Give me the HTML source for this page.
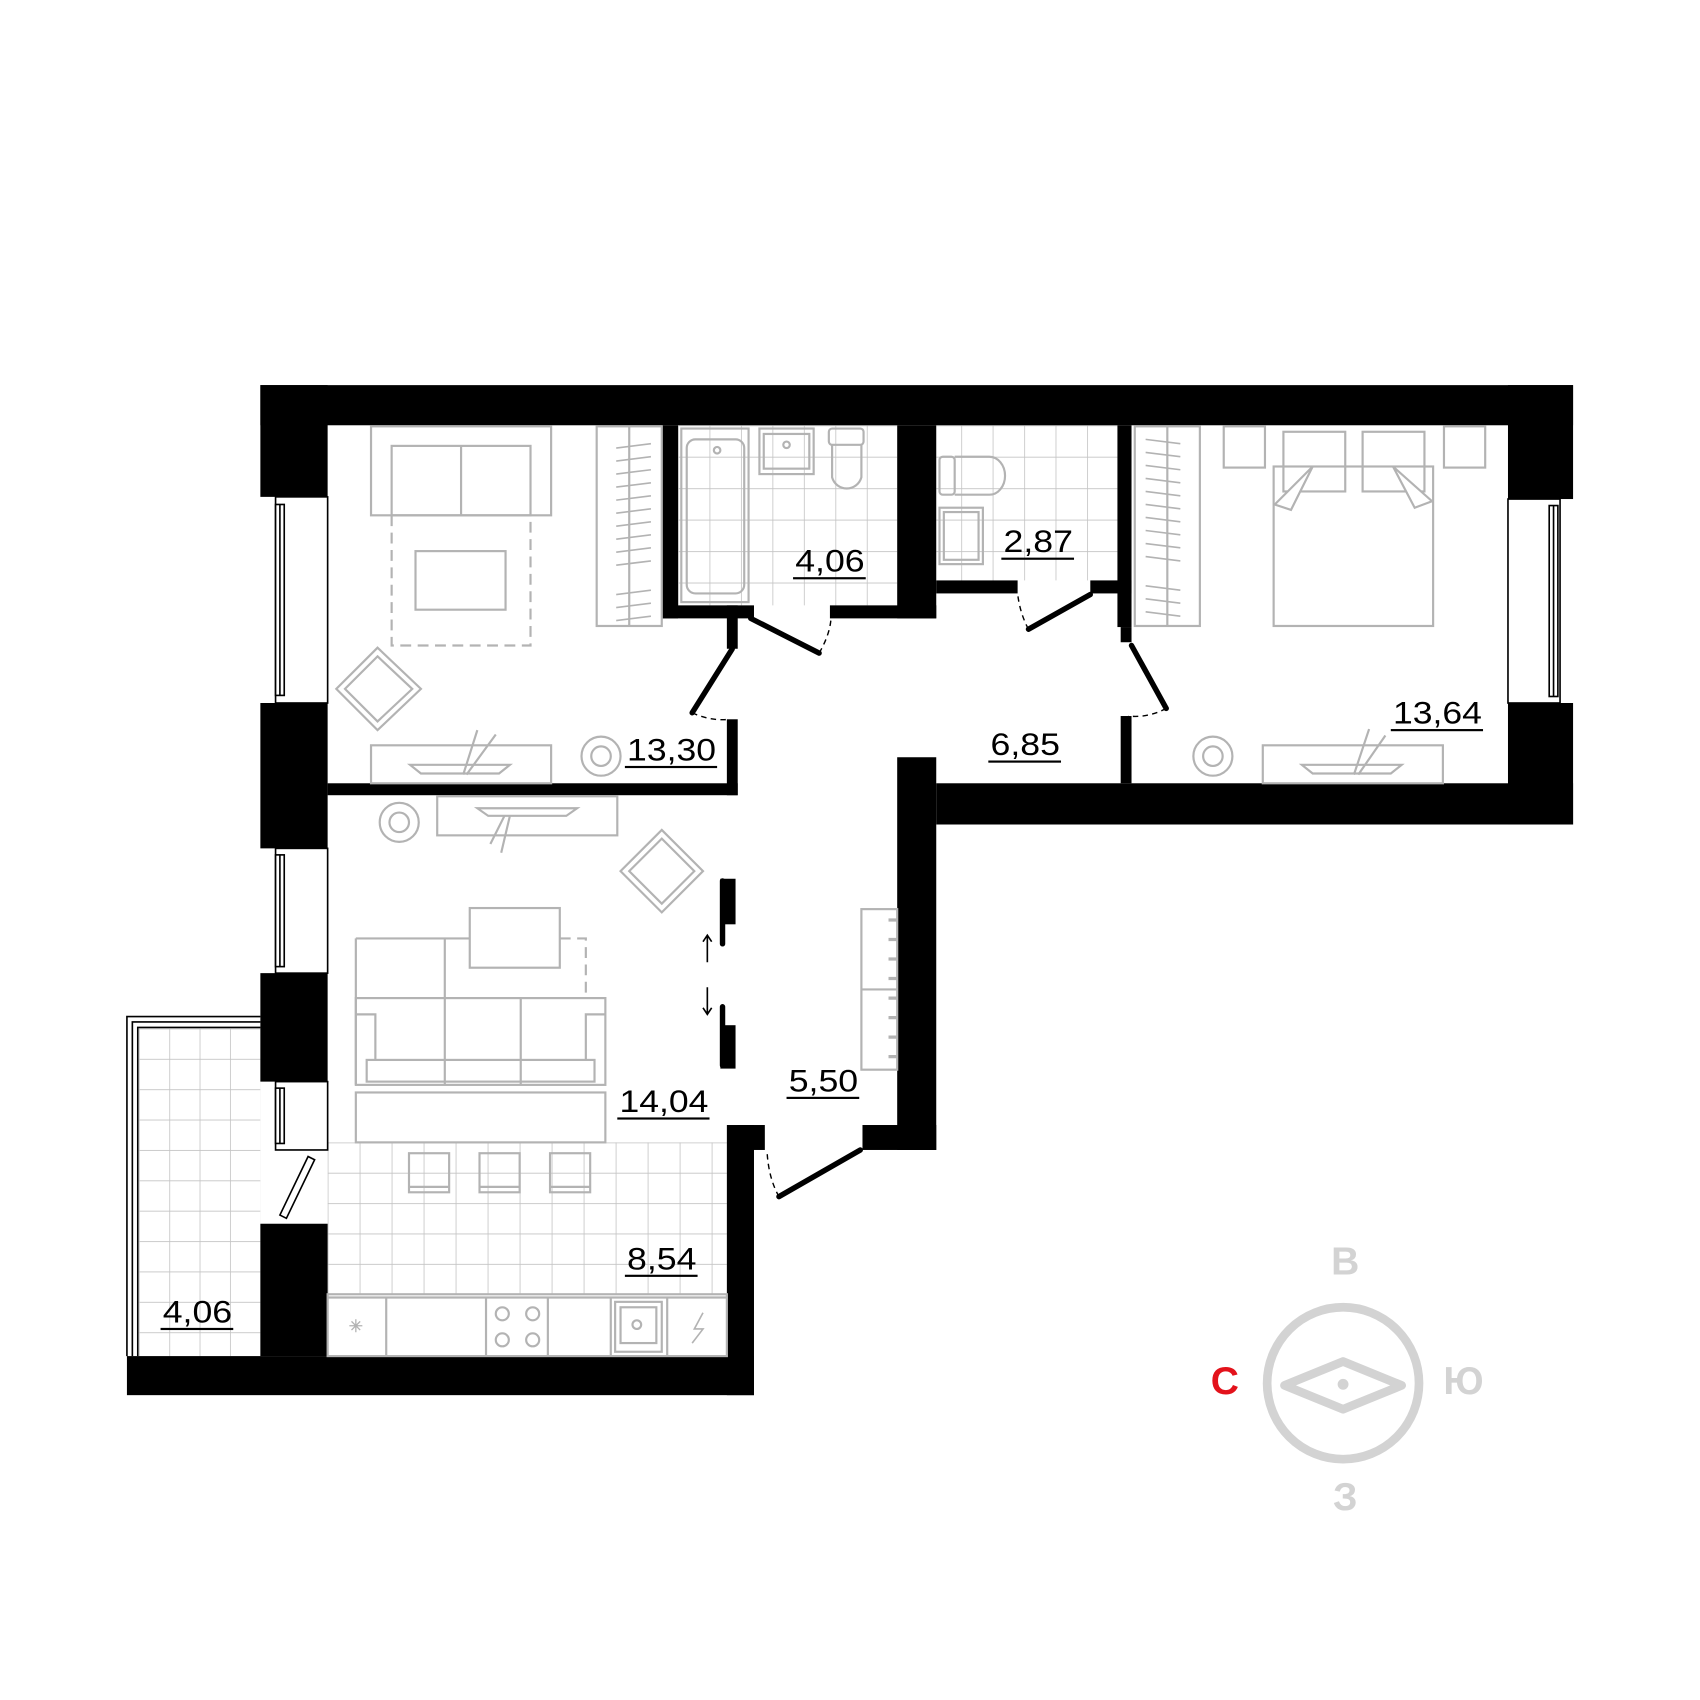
<!DOCTYPE html>
<html><head><meta charset="utf-8"><style>
html,body{margin:0;padding:0;background:#fff;width:1700px;height:1700px;overflow:hidden}
svg{display:block}
text{font-family:"Liberation Sans",sans-serif}
</style></head><body>
<svg width="1700" height="1700" viewBox="0 0 1567 1567" xmlns="http://www.w3.org/2000/svg">
<defs>
<pattern id="tb" x="625" y="392" width="29" height="29" patternUnits="userSpaceOnUse"><path d="M0 0H29M0 0V29" stroke="#c4c4c4" stroke-width="1.5" fill="none"/></pattern>
<pattern id="tk" x="302" y="1053" width="29.5" height="28" patternUnits="userSpaceOnUse"><path d="M0 0H30M0 0V28" stroke="#c4c4c4" stroke-width="1.5" fill="none"/></pattern>
<pattern id="tl" x="128" y="948" width="28" height="28" patternUnits="userSpaceOnUse"><path d="M0 0H28M0 0V28" stroke="#c4c4c4" stroke-width="1.5" fill="none"/></pattern>
</defs>
<rect x="625" y="392" width="202" height="166" fill="url(#tb)"/>
<rect x="863" y="392" width="167" height="143" fill="url(#tb)"/>
<rect x="302" y="1053" width="368" height="140" fill="url(#tk)"/>
<rect x="128" y="948" width="112" height="302" fill="url(#tl)"/>
<path d="M117 1250V937H240M122 1250V942H240M127 1250V947H240" stroke="#000" stroke-width="1.5" fill="none"/>
<g fill="#000">
<rect x="240" y="355" width="1210" height="37"/>
<rect x="240" y="355" width="62" height="103"/>
<rect x="240" y="648" width="62" height="134"/>
<rect x="240" y="897" width="62" height="100"/>
<rect x="240" y="1128" width="62" height="122"/>
<rect x="117" y="1250" width="578" height="36"/>
<rect x="670" y="1037" width="25" height="249"/>
<rect x="680" y="1037" width="25" height="23"/>
<rect x="1390" y="355" width="60" height="105"/>
<rect x="1390" y="648" width="60" height="112"/>
<rect x="863" y="722" width="587" height="38"/>
<rect x="827" y="698" width="36" height="362"/>
<rect x="795" y="1037" width="68" height="23"/>
<rect x="302" y="722" width="378" height="11"/>
<rect x="670" y="663" width="10" height="70"/>
<rect x="664" y="810" width="14" height="42"/>
<rect x="664" y="945" width="14" height="40"/>
<rect x="610" y="392" width="15" height="178"/>
<rect x="610" y="558" width="85" height="12"/>
<rect x="670" y="558" width="10" height="40"/>
<rect x="765" y="558" width="98" height="12"/>
<rect x="827" y="392" width="36" height="178"/>
<rect x="863" y="535" width="75" height="12"/>
<rect x="1005" y="535" width="38" height="12"/>
<rect x="1030" y="392" width="13" height="186"/>
<rect x="1033" y="578" width="10" height="14"/>
<rect x="1033" y="660" width="10" height="62"/>
</g>
<g stroke="#000" stroke-width="1.5" fill="#fff">
<rect x="254" y="458" width="48" height="190"/><rect x="254" y="465" width="8" height="176"/><line x1="258" y1="465" x2="258" y2="641"/>
<rect x="254" y="782" width="48" height="115"/><rect x="254" y="788" width="8" height="103"/><line x1="258" y1="788" x2="258" y2="891"/>
<rect x="254" y="997" width="48" height="63"/><rect x="254" y="1003" width="8" height="51"/><line x1="258" y1="1003" x2="258" y2="1054"/>
<rect x="1390" y="460" width="48" height="188"/><rect x="1428" y="466" width="8" height="176"/><line x1="1432" y1="466" x2="1432" y2="642"/>
</g>
<g stroke="#000" stroke-width="5" stroke-linecap="round" fill="none">
<line x1="675" y1="598" x2="638" y2="657"/>
<line x1="692" y1="570" x2="755" y2="602"/>
<line x1="1005" y1="548" x2="948" y2="580"/>
<line x1="1043" y1="595" x2="1075" y2="653"/>
<line x1="793" y1="1060" x2="718" y2="1103"/>
<line x1="666" y1="812" x2="666" y2="870"/>
<line x1="666" y1="928" x2="666" y2="982"/>
</g>
<g stroke="#000" stroke-width="1.3" stroke-dasharray="5,4" fill="none">
<path d="M638 657Q655 665 673 663"/>
<path d="M755 602Q765 585 766 570"/>
<path d="M948 580Q940 565 938 547"/>
<path d="M1075 653Q1058 662 1040 660"/>
<path d="M718 1103Q708 1085 707 1060"/>
</g>
<g stroke="#000" stroke-width="1.5" fill="none">
<path d="M652 887V862M648 868L652 862L656 868"/>
<path d="M652 910V935M648 929L652 935L656 929"/>
</g>
<g stroke="#000" stroke-width="1.5" fill="#fff"><path d="M258 1120L284 1066L290 1069L264 1123Z"/></g>
<g stroke="#b3b3b3" stroke-width="2" fill="none">
<rect x="342" y="393" width="166" height="82"/><rect x="361" y="411" width="128" height="64"/><line x1="425" y1="411" x2="425" y2="475"/>
<path d="M361 475V595H489V475" stroke-dasharray="10,6"/>
<rect x="383" y="508" width="83" height="54"/>
<rect x="550" y="393" width="60" height="184"/><line x1="580" y1="393" x2="580" y2="577"/>
<path d="M348 597L388 635L348 673L310 635Z"/><path d="M348 605L380 635L348 665L318 635Z"/>
<rect x="342" y="687" width="166" height="35"/><path d="M378 705H470L460 713H388Z"/><path d="M427 714L440 673M430 714L457 677"/>
<circle cx="554" cy="697" r="18"/><circle cx="554" cy="697" r="9"/>
<rect x="403" y="734" width="166" height="36"/><path d="M440 745H532L522 752H450Z"/><path d="M465 752L452 778M470 752L462 786"/>
<circle cx="368" cy="758" r="18"/><circle cx="368" cy="758" r="9"/>
<path d="M610 765L648 803L610 841L572 803Z"/><path d="M610 773L640 803L610 833L580 803Z"/>
<rect x="433" y="837" width="83" height="55"/>
<path d="M516 865H540V920" stroke-dasharray="10,6"/>
<path d="M328 865H433M328 865V1000M410 865V920"/>
<rect x="328" y="920" width="230" height="80"/><line x1="410" y1="920" x2="410" y2="1000"/><line x1="480" y1="920" x2="480" y2="1000"/>
<rect x="338" y="977" width="210" height="20"/><path d="M328 935H346V977M558 935H540V977"/>
<rect x="328" y="1007" width="230" height="46"/>
<rect x="377" y="1063" width="37" height="36"/><line x1="377" y1="1094" x2="414" y2="1094"/>
<rect x="442" y="1063" width="37" height="36"/><line x1="442" y1="1094" x2="479" y2="1094"/>
<rect x="507" y="1063" width="37" height="36"/><line x1="507" y1="1094" x2="544" y2="1094"/>
<rect x="302" y="1193" width="368" height="57" fill="#fff"/><line x1="302" y1="1196" x2="670" y2="1196"/>
<line x1="356" y1="1196" x2="356" y2="1250"/><line x1="448" y1="1196" x2="448" y2="1250"/><line x1="505" y1="1196" x2="505" y2="1250"/><line x1="563" y1="1196" x2="563" y2="1250"/><line x1="615" y1="1196" x2="615" y2="1250"/>
<circle cx="463" cy="1211" r="6"/><circle cx="491" cy="1211" r="6"/><circle cx="463" cy="1235" r="6"/><circle cx="491" cy="1235" r="6"/>
<rect x="567" y="1200" width="43" height="46"/><rect x="572" y="1205" width="33" height="33"/><circle cx="587" cy="1221" r="4"/>
<path d="M322 1222H334M328 1216V1228M324 1218L332 1226M332 1218L324 1226" stroke-width="1.2"/>
<path d="M648 1210L640 1225H648L638 1238" stroke-width="1.5"/>
<rect x="628" y="395" width="62" height="160"/><rect x="633" y="405" width="53" height="142" rx="8"/><circle cx="661" cy="415" r="3"/>
<rect x="700" y="395" width="50" height="42"/><rect x="704" y="400" width="42" height="32"/><circle cx="725" cy="410" r="3"/>
<rect x="764" y="395" width="32" height="15" rx="3"/><path d="M767 410V440A14 14 0 0 0 794 440V410"/>
<rect x="866" y="421" width="14" height="35" rx="3"/><path d="M880 421H912A14 17 0 0 1 912 456H880"/>
<rect x="866" y="468" width="40" height="52"/><rect x="870" y="472" width="32" height="44"/>
<rect x="1046" y="393" width="60" height="184"/><line x1="1076" y1="393" x2="1076" y2="577"/>
<rect x="1128" y="393" width="38" height="38"/><rect x="1331" y="393" width="38" height="38"/>
<rect x="1183" y="398" width="57" height="55"/><rect x="1256" y="398" width="57" height="55"/>
<rect x="1174" y="430" width="147" height="147"/><path d="M1210 430L1175 465L1190 470ZM1284 430L1320 462L1304 468Z" fill="#fff"/>
<circle cx="1118" cy="697" r="18"/><circle cx="1118" cy="697" r="9"/>
<rect x="1164" y="687" width="166" height="35"/><path d="M1200 705H1292L1282 713H1210Z"/><path d="M1248 714L1262 672M1252 714L1277 678"/>
<rect x="794" y="838" width="33" height="148"/><line x1="794" y1="912" x2="827" y2="912"/>
</g>
<g stroke="#b3b3b3" stroke-width="1.5">
<path d="M568 413L600 409M568 425L600 421M568 437L600 433M568 449L600 445M568 461L600 457M568 473L600 469M568 485L600 481M568 497L600 493M568 509L600 505M568 521L600 517M568 548L600 544M568 560L600 556M568 572L600 568"/>
<path d="M1056 405L1088 409M1056 417L1088 421M1056 429L1088 433M1056 441L1088 445M1056 453L1088 457M1056 465L1088 469M1056 477L1088 481M1056 489L1088 493M1056 501L1088 505M1056 513L1088 517M1056 540L1088 544M1056 552L1088 556M1056 564L1088 568"/>
<path d="M819 848H827M819 866H827M819 884H827M819 902H827M819 920H827M819 938H827M819 956H827M819 974H827" stroke-width="3"/>
</g>
<g font-size="29" fill="#000">
<text x="578" y="701" textLength="82" lengthAdjust="spacingAndGlyphs">13,30</text><rect x="576" y="706" width="85" height="2"/>
<text x="733" y="527" textLength="64" lengthAdjust="spacingAndGlyphs">4,06</text><rect x="731" y="532" width="67" height="2"/>
<text x="925" y="509" textLength="64" lengthAdjust="spacingAndGlyphs">2,87</text><rect x="923" y="514" width="67" height="2"/>
<text x="1284" y="667" textLength="82" lengthAdjust="spacingAndGlyphs">13,64</text><rect x="1282" y="672" width="85" height="2"/>
<text x="913" y="696" textLength="64" lengthAdjust="spacingAndGlyphs">6,85</text><rect x="911" y="701" width="67" height="2"/>
<text x="571" y="1025" textLength="82" lengthAdjust="spacingAndGlyphs">14,04</text><rect x="569" y="1030" width="85" height="2"/>
<text x="727" y="1006" textLength="64" lengthAdjust="spacingAndGlyphs">5,50</text><rect x="725" y="1011" width="67" height="2"/>
<text x="578" y="1170" textLength="64" lengthAdjust="spacingAndGlyphs">8,54</text><rect x="576" y="1175" width="67" height="2"/>
<text x="150" y="1219" textLength="64" lengthAdjust="spacingAndGlyphs">4,06</text><rect x="148" y="1224" width="67" height="2"/>
</g>
<circle cx="1238" cy="1275" r="70" stroke="#d3d3d3" stroke-width="8" fill="none"/>
<path d="M1184 1277L1238 1255L1292 1277L1238 1299Z" stroke="#d3d3d3" stroke-width="8" stroke-linejoin="round" fill="none"/>
<circle cx="1238" cy="1276" r="5" fill="#d3d3d3"/>
<g font-size="36" font-weight="bold" fill="#d3d3d3" text-anchor="middle">
<text x="1240" y="1175">В</text><text x="1349" y="1285">Ю</text><text x="1240" y="1392">З</text>
<text x="1129" y="1285" fill="#e3121b">С</text>
</g>
</svg>
</body></html>
